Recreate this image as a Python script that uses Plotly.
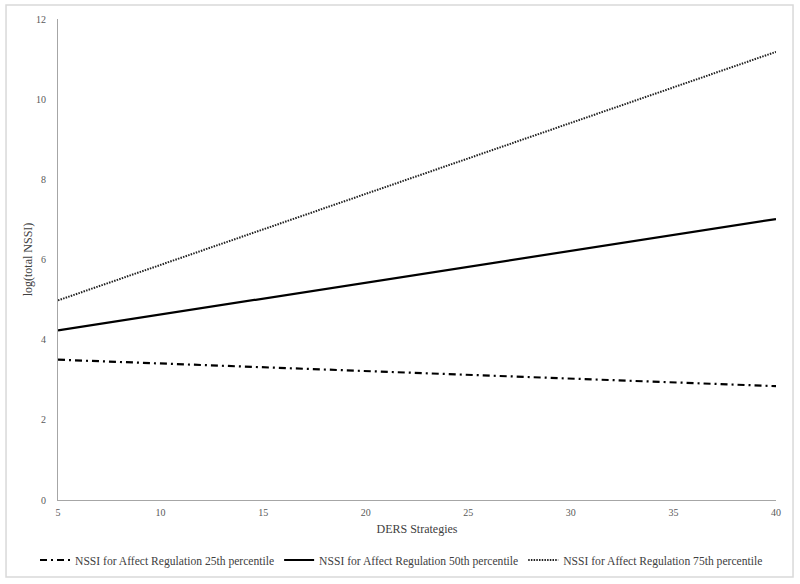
import plotly.graph_objects as go

# DERS Strategies (x) and predicted log(total NSSI) for each percentile
ders = [5, 40]
p25 = [3.50, 2.84]
p50 = [4.23, 7.01]
p75 = [4.98, 11.18]

names = [
    "NSSI for Affect Regulation 25th percentile",
    "NSSI for Affect Regulation 50th percentile",
    "NSSI for Affect Regulation 75th percentile",
]

font_family = "Liberation Serif, Times New Roman, serif"

fig = go.Figure()
fig.add_trace(go.Scatter(x=ders, y=p25, mode="lines", name=names[0],
                         line=dict(color="black", width=2.2, dash="7px,4px,2px,4px")))
fig.add_trace(go.Scatter(x=ders, y=p50, mode="lines", name=names[1],
                         line=dict(color="black", width=2.2)))
fig.add_trace(go.Scatter(x=ders, y=p75, mode="lines", name=names[2],
                         line=dict(color="#222222", width=2, dash="1.5px,1.2px")))

# light gray frame around the whole chart
fig.add_shape(type="rect", xref="paper", yref="paper",
              x0=-0.0724, x1=1.0237, y0=-0.160, y1=1.029,
              line=dict(color="#d9d9d9", width=1.5), fillcolor="rgba(0,0,0,0)")

fig.update_xaxes(range=[5, 40], tickvals=[5, 10, 15, 20, 25, 30, 35, 40],
                 showgrid=False, zeroline=False, showline=True,
                 linecolor="#a6a6a6", linewidth=1, ticks="",
                 ticklabelstandoff=3,
                 tickfont=dict(family=font_family, size=10, color="#595959"),
                 title=dict(text="DERS Strategies", standoff=7,
                            font=dict(family=font_family, size=12, color="#404040")))
fig.update_yaxes(range=[0, 12], tickvals=[0, 2, 4, 6, 8, 10, 12],
                 showgrid=False, zeroline=False, showline=True,
                 linecolor="#a6a6a6", linewidth=1, ticks="",
                 ticklabelstandoff=9,
                 tickfont=dict(family=font_family, size=10, color="#595959"),
                 title=dict(text="log(total NSSI)", standoff=0,
                            font=dict(family=font_family, size=12, color="#404040")))

fig.update_layout(
    width=800, height=584,
    margin=dict(l=58, r=24, t=19, b=84, autoexpand=False),
    plot_bgcolor="white", paper_bgcolor="white",
    font=dict(family=font_family, color="#404040"),
    legend=dict(orientation="h", x=-0.032, xanchor="left",
                y=-0.1247, yanchor="middle",
                font=dict(family=font_family, size=11.6, color="#404040"),
                itemwidth=30, tracegroupgap=0),
)

# drop the default body margin so the figure sits at the page corner
fig.write_html("out.html", config={"displayModeBar": False},
               post_script="document.body.style.margin='0';")
